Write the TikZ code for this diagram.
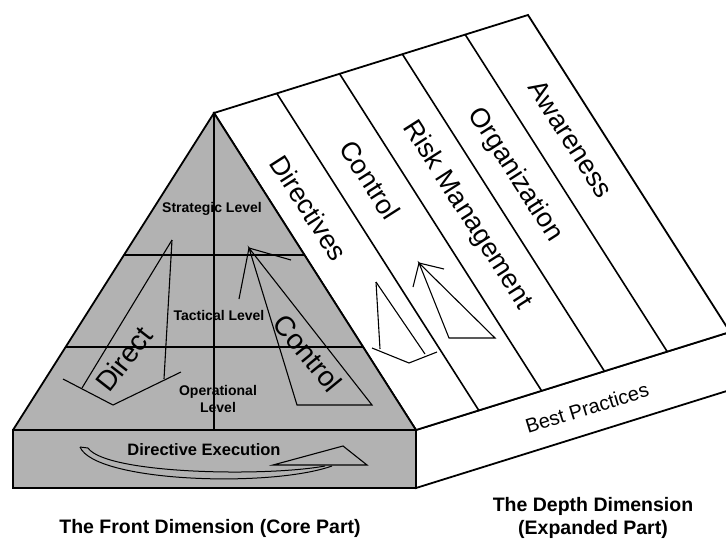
\documentclass[tikz,border=0pt]{standalone}
\usepackage{fontspec}
\setmainfont{Liberation Sans}
\usetikzlibrary{calc}
\begin{document}
\begin{tikzpicture}[x=1pt,y=-1pt,
  outline/.style={draw=black,line width=1.8pt,line join=miter},
  divider/.style={draw=black,line width=1.6pt},
  gridline/.style={draw=black,line width=1.2pt},
  arr/.style={draw=black,line width=1.1pt,line join=miter},
  striplabel/.style={font=\fontsize{27}{30}\selectfont,rotate=-57.4,inner sep=0pt},
  biglabel/.style={font=\fontsize{28}{30}\selectfont,inner sep=0pt},
  levellabel/.style={font=\bfseries\fontsize{14}{17}\selectfont,inner sep=0pt,align=center},
  titlelabel/.style={font=\bfseries\fontsize{19.5}{23}\selectfont,align=center,inner sep=0pt}]
\useasboundingbox (0,0) rectangle (726,541);
\clip (0,0) rectangle (726,541);
\coordinate (A) at (214,113);
\coordinate (BL) at (13,430);
\coordinate (BR) at (416,430);
\coordinate (BM) at (214,430);
\coordinate (R) at (528,15);
\coordinate (RB) at (730,332);
\coordinate (BBR) at (416,488);
\coordinate (SB) at (730,390);
% depth slab
\filldraw[fill=white,outline] (BR) -- (RB) -- (SB) -- (BBR) -- cycle;
% roof
\filldraw[fill=white,outline] (A) -- (R) -- (RB) -- (BR) -- cycle;
\foreach \f in {0.2,0.4,0.6,0.8}
  \draw[divider] ($(A)!\f!(R)$) -- ($(BR)!\f!(RB)$);
% front triangle and base box
\fill[gray!60] (A) -- (BL) -- (BR) -- cycle;
\draw[gridline] ($(A)!0.448!(BL)$) -- ($(A)!0.448!(BR)$);
\draw[gridline] ($(A)!0.738!(BL)$) -- ($(A)!0.738!(BR)$);
\draw[gridline] (A) -- (BM);
\draw[outline] (BL) -- (A) -- (BR);
\filldraw[fill=gray!60,outline] (BL) rectangle (BBR);
% Direct arrow
\draw[arr] (172,240) -- (82,388);
\draw[arr] (172,240) -- (164,379);
\draw[arr] (63,379) -- (113,405) -- (181,372);
% Control arrow (front)
\draw[arr] (239,299) -- (249,248) -- (291,260);
\draw[arr] (249,248) -- (297,405) -- (372,405) -- cycle;
% arrows in the depth part
\draw[arr] (376,282) -- (380,349);
\draw[arr] (376,282) -- (425,354);
\draw[arr] (372,348) -- (409,363) -- (437,352);
\draw[arr] (413,287) -- (419,263) -- (444,269);
\draw[arr] (419,263) -- (449,338) -- (495,338) -- cycle;
% Directive execution curved arrow
\draw[line width=1pt] (80,447) .. controls (95,482) and (270,488) .. (332,466);
\draw[line width=1pt] (88,448) .. controls (106,474) and (265,477) .. (325,466);
\draw[line width=1pt] (80,447) -- (88,448);
\draw[arr] (273,465) -- (343,446) -- (367,465) -- cycle;
% labels
\node[levellabel] (strat) at (212,209) {Strategic Level};
\node[levellabel] (tact) at (219,315) {Tactical Level};
\node[levellabel] (oper) at (218,399) {Operational\\Level};
\node[font=\bfseries\fontsize{16.5}{18}\selectfont,inner sep=0pt] (exec) at (204,450) {Directive Execution};
\node[biglabel,rotate=52] (direct) at (124,359) {Direct};
\node[biglabel,rotate=-50.7] (ctrlf) at (308,353) {Control};
\node[striplabel] (s1) at (309,208) {Directives};
\node[striplabel] (s2) at (370,180) {Control};
\node[striplabel] (s3) at (467,215) {Risk Management};
\node[striplabel] (s4) at (515,175) {Organization};
\node[striplabel] (s5) at (571,139) {Awareness};
\node[font=\fontsize{20}{22}\selectfont,rotate=17.2,inner sep=0pt] (bp) at (587,408) {Best Practices};
\node[titlelabel] (front) at (210,528) {The Front Dimension (Core Part)};
\node[titlelabel] (depth) at (593,518) {The Depth Dimension\\(Expanded Part)};
\end{tikzpicture}
\end{document}
